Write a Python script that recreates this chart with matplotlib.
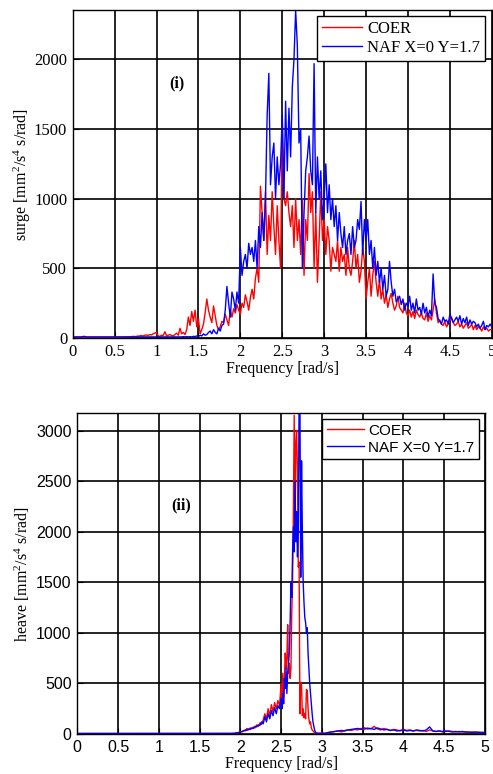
import matplotlib
matplotlib.use("Agg")
import matplotlib.pyplot as plt
import numpy as np

# --- Data: surge spectrum, 0.02 rad/s grid from 0 to 5 ---
surge_freq = np.round(np.arange(0, 5.001, 0.02), 2)

surge_coer = [
    5, 5, 5, 5, 5, 5, 5, 5, 5, 5,
    5, 5, 5, 5, 5, 5, 5, 5, 5, 5,
    5, 5, 5, 5, 5, 5, 5, 6, 6, 6,
    6, 7, 7, 8, 8, 10, 12, 10, 12, 14,
    15, 18, 14, 20, 22, 18, 25, 22, 30, 35,
    40, 15, 12, 20, 18, 45, 15, 20, 25, 18,
    15, 25, 35, 20, 70, 30, 40, 25, 60, 150,
    90, 190, 120, 200, 80, 140, 30, 60, 100, 180,
    280, 200, 150, 110, 230, 160, 90, 60, 80, 120,
    110, 170, 130, 90, 200, 150, 210, 180, 240, 200,
    170, 250, 220, 310, 260, 200, 290, 350, 280, 430,
    500, 400, 1090, 900, 700, 1050, 600, 880, 700, 1050,
    800, 600, 950, 700, 500, 1570, 1000, 950, 1050, 900,
    800, 950, 650, 1000, 700, 850, 600, 1000, 450, 850,
    700, 1180, 900, 1050, 500, 900, 400, 700, 1050, 700,
    850, 600, 800, 700, 480, 650, 600, 550, 700, 480,
    650, 550, 600, 450, 650, 500, 450, 550, 700, 500,
    600, 400, 480, 650, 550, 280, 400, 500, 300, 450,
    550, 400, 300, 420, 280, 350, 250, 310, 220, 280,
    320, 250, 200, 230, 300, 220, 200, 180, 250, 180,
    160, 200, 150, 190, 140, 200, 170, 150, 180, 140,
    130, 180, 120, 160, 130, 200, 280, 180, 110, 130,
    100, 90, 120, 80, 100, 130, 150, 110, 90, 100,
    120, 80, 100, 70, 90, 110, 70, 80, 100, 60,
    90, 60, 80, 70, 50, 80, 60, 70, 50, 60,
    60,
]

surge_naf = [
    8, 8, 8, 8, 8, 8, 10, 12, 8, 8,
    8, 8, 8, 8, 8, 8, 8, 8, 8, 8,
    8, 8, 8, 8, 8, 8, 8, 8, 8, 8,
    8, 8, 8, 8, 8, 8, 8, 8, 8, 8,
    8, 8, 8, 8, 8, 8, 8, 8, 8, 8,
    8, 8, 8, 8, 8, 8, 8, 8, 8, 8,
    8, 8, 8, 8, 8, 8, 10, 8, 10, 8,
    10, 8, 12, 10, 15, 10, 20, 15, 30, 20,
    25, 40, 50, 30, 60, 40, 30, 70, 50, 90,
    100, 200, 370, 250, 150, 330, 280, 200, 330, 250,
    650, 450, 550, 600, 500, 680, 600, 650, 550, 700,
    500, 800, 650, 900, 700, 1000, 1600, 1900, 1100, 1300,
    1400, 1000, 1300, 1100, 1250, 1600, 1000, 1700, 1200, 1650,
    1300, 1800, 2000, 2350, 2100, 1400, 1500, 500, 900, 1200,
    1300, 1450, 1200, 1100, 1970, 900, 1300, 1000, 1200, 850,
    1000, 1250, 900, 1100, 850, 1000, 800, 950, 700, 900,
    750, 650, 800, 600, 700, 750, 600, 800, 650, 700,
    850, 780, 980, 600, 850, 700, 850, 600, 700, 500,
    650, 450, 550, 400, 500, 350, 450, 300, 350, 550,
    400, 300, 350, 260, 280, 300, 240, 280, 200, 250,
    230, 300, 200, 250, 180, 280, 200, 220, 170, 250,
    180, 220, 150, 200, 160, 460, 250, 220, 140, 120,
    100, 150, 120, 130, 100, 170, 140, 110, 130, 150,
    120, 160, 100, 140, 110, 150, 90, 130, 100, 120,
    110, 80, 100, 70, 90, 120, 60, 90, 80, 100,
    80,
]

# --- Data: heave spectrum, finer grid around the peak ---
heave_freq = np.round(np.concatenate([
    np.arange(0, 1.85, 0.1),
    np.arange(1.9, 2.49, 0.02),
    np.arange(2.5, 2.995, 0.01),
    np.arange(3.0, 5.001, 0.04),
]), 2)

heave_coer = [
    5, 5, 5, 5, 5, 5, 5, 5, 5, 5, 5, 5, 5, 5, 5, 5, 5, 5, 5,
    5, 8, 10, 12, 15, 25, 20, 35, 30, 55,
    40, 60, 50, 70, 60, 90, 75, 110, 95, 140,
    200, 150, 250, 180, 290, 220, 310, 250, 330, 280,
    500, 350, 600, 300, 550, 800, 650, 750, 1080, 600,
    700, 550, 650, 1200, 1500, 2200, 3150, 2000, 2900, 3000,
    2600, 1650, 1700, 200, 510, 480, 180, 250, 160, 200,
    150, 440, 430, 250, 150, 100, 120, 60, 40, 30,
    20, 15, 12, 10, 10, 8, 8, 10, 8, 10,
    10, 5, 15, 20, 25, 30, 20, 35, 40, 35,
    45, 40, 55, 45, 60, 50, 75, 50, 40, 55,
    45, 35, 45, 40, 30, 45, 35, 40, 30, 35,
    30, 35, 25, 40, 30, 25, 30, 20, 25, 30,
    25, 20, 25, 20, 20, 15, 20, 15, 18, 15, 15,
]

heave_naf = [
    5, 5, 5, 5, 5, 5, 5, 5, 5, 5, 5, 5, 5, 5, 5, 5, 5, 5, 5,
    5, 6, 8, 10, 15, 20, 25, 30, 40, 35,
    50, 45, 60, 55, 75, 70, 90, 85, 120, 100,
    170, 120, 200, 150, 230, 180, 260, 200, 280, 250,
    350, 250, 400, 300, 550, 450, 650, 400, 600, 700,
    800, 1100, 1500, 1350, 1800, 2050, 1800, 2500, 1900, 2200,
    1750, 2000, 3300, 3300, 1550, 2700, 2000, 1500, 1300, 1150,
    1100, 1000, 1050, 800, 650, 500, 400, 300, 200, 120,
    80, 40, 20, 10, 5, 5, 5, 5, 5, 5,
    5, 8, 15, 20, 25, 30, 35, 30, 40, 45,
    50, 55, 45, 60, 50, 55, 45, 60, 50, 40,
    45, 35, 40, 30, 35, 40, 30, 35, 30, 40,
    35, 30, 40, 70, 30, 25, 30, 25, 30, 25,
    20, 25, 20, 25, 20, 20, 15, 20, 15, 15, 15,
]

x_ticks = [0, 0.5, 1, 1.5, 2, 2.5, 3, 3.5, 4, 4.5, 5]
x_tick_labels = ['0', '0.5', '1', '1.5', '2', '2.5', '3', '3.5', '4', '4.5', '5']
legend_labels = ['COER', 'NAF X=0 Y=1.7']

# --- Style ---
plt.rcParams['mathtext.fontset'] = 'custom'
plt.rcParams['mathtext.rm'] = 'Liberation Serif'
plt.rcParams['mathtext.it'] = 'Liberation Serif:italic'
plt.rcParams['mathtext.bf'] = 'Liberation Serif:bold'

SERIF = 'Liberation Serif'
SANS = 'Liberation Sans'


def style_axes(ax, tick_font, tick_size):
    ax.set_xlim(0, 5)
    ax.set_xticks(x_ticks)
    ax.set_xticklabels(x_tick_labels)
    ax.grid(True, color='black', linewidth=1.2)
    ax.tick_params(direction='in', length=4, pad=4)
    for lab in ax.get_xticklabels() + ax.get_yticklabels():
        lab.set_fontfamily(tick_font)
        lab.set_fontsize(tick_size)
    for sp in ax.spines.values():
        sp.set_linewidth(1.0)
    ax.set_xlabel('Frequency [rad/s]', fontfamily=SERIF, fontsize=11.5, labelpad=1)


fig = plt.figure(figsize=(4.93, 7.74), dpi=100)

# --- (i) surge ---
ax1 = fig.add_axes([0.1475, 0.5633, 0.85, 0.4238])
ax1.plot(surge_freq, surge_coer, color='red', linewidth=1.0, label=legend_labels[0])
ax1.plot(surge_freq, surge_naf, color='blue', linewidth=1.0, label=legend_labels[1])
ax1.set_ylim(0, 2355)
ax1.set_yticks([0, 500, 1000, 1500, 2000])
style_axes(ax1, SERIF, 12)
ax1.set_ylabel(r'surge [mm$^{2}$/s$^{4}$ s/rad]', fontfamily=SERIF, fontsize=11.5, labelpad=1)
ax1.text(1.245, 1830, '(i)', fontfamily=SERIF, fontsize=11.5, fontweight='bold',
         ha='center', va='center')
leg1 = ax1.legend(loc='upper right', bbox_to_anchor=(0.984, 0.982), borderaxespad=0,
                  prop={'family': SERIF, 'size': 12}, fancybox=False, framealpha=1,
                  edgecolor='black', handlelength=2.4, handletextpad=0.3,
                  borderpad=0.3, labelspacing=0.2)
leg1.get_frame().set_linewidth(1.0)

# --- (ii) heave ---
ax2 = fig.add_axes([0.1568, 0.0517, 0.827, 0.4143])
ax2.plot(heave_freq, heave_coer, color='red', linewidth=1.0, label=legend_labels[0])
ax2.plot(heave_freq, heave_naf, color='blue', linewidth=1.0, label=legend_labels[1])
ax2.set_ylim(0, 3170)
ax2.set_yticks([0, 500, 1000, 1500, 2000, 2500, 3000])
style_axes(ax2, SANS, 11.5)
ax2.set_ylabel(r'heave [mm$^{2}$/s$^{4}$ s/rad]', fontfamily=SERIF, fontsize=11.5, labelpad=3)
ax2.text(1.27, 2260, '(ii)', fontfamily=SERIF, fontsize=11.5, fontweight='bold',
         ha='center', va='center')
leg2 = ax2.legend(loc='upper right', bbox_to_anchor=(0.985, 0.982), borderaxespad=0,
                  prop={'family': SANS, 'size': 11}, fancybox=False, framealpha=1,
                  edgecolor='black', handlelength=2.4, handletextpad=0.3,
                  borderpad=0.3, labelspacing=0.2)
leg2.get_frame().set_linewidth(1.0)

fig.savefig('out.png', dpi=100)
